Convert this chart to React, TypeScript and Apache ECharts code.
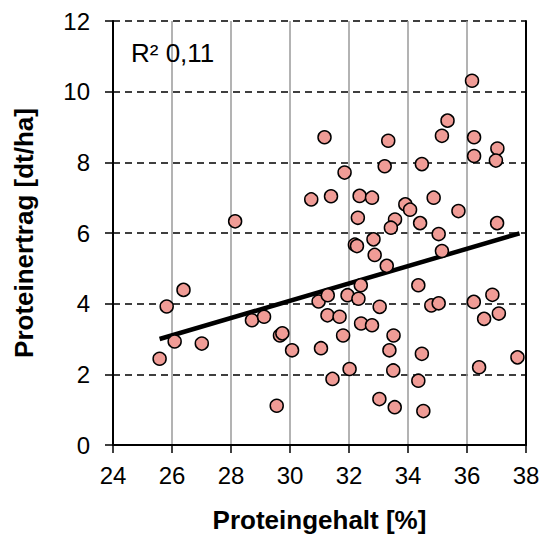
import React, { useEffect, useRef } from "react";
import * as echarts from "echarts";

const proteinContent: number[] = [
  25.58, 25.82, 26.39, 26.09, 27.01, 28.14, 28.71, 29.12, 29.55, 29.66,
  29.74, 30.07, 30.97, 31.05, 31.28, 31.27, 31.68, 31.8, 31.44, 32.02,
  31.95, 32.32, 32.4, 32.41, 32.78, 33.04, 33.51, 33.37, 33.5, 33.03,
  33.55, 32.87, 33.28, 31.17, 33.33, 33.21, 31.85, 30.72, 31.39, 32.36,
  32.78, 32.3, 33.91, 33.56, 33.42, 32.2, 32.27, 32.83, 36.17, 35.34,
  35.15, 36.24, 36.24, 37.03, 36.98, 34.47, 34.87, 34.07, 35.71, 34.41,
  37.02, 35.04, 35.15, 34.35, 34.79, 35.04, 36.23, 36.86, 36.58, 37.08,
  34.47, 34.35, 34.52, 36.41, 37.71,
];

const proteinYield: number[] = [
  2.44, 3.92, 4.39, 2.93, 2.87, 6.33, 3.53, 3.63, 1.11, 3.1,
  3.16, 2.68, 4.06, 2.74, 4.24, 3.67, 3.63, 3.1, 1.87, 2.15,
  4.24, 4.14, 4.52, 3.44, 3.39, 3.91, 3.1, 2.68, 2.11, 1.3,
  1.07, 5.38, 5.07, 8.71, 8.61, 7.89, 7.71, 6.95, 7.04, 7.05,
  7.0, 6.43, 6.81, 6.38, 6.15, 5.67, 5.63, 5.82, 10.31, 9.18,
  8.75, 8.71, 8.18, 8.39, 8.05, 7.95, 7.0, 6.66, 6.62, 6.28,
  6.28, 5.97, 5.49, 4.52, 3.95, 4.01, 4.05, 4.25, 3.57, 3.72,
  2.58, 1.82, 0.96, 2.2, 2.48,
];

const trendX: number[] = [25.58, 37.78];
const trendY: number[] = [3.0, 5.99];

const xTicks: number[] = [24, 26, 28, 30, 32, 34, 36, 38];
const yTicks: number[] = [0, 2, 4, 6, 8, 10, 12];

const rSquaredLabel = "R² 0,11";
const xTitle = "Proteingehalt [%]";
const yTitle = "Proteinertrag [dt/ha]";

const FONT = "Liberation Sans, Arial, sans-serif";

export default function App() {
  const ref = useRef<HTMLDivElement>(null);

  useEffect(() => {
    if (!ref.current) return;
    const chart = echarts.init(ref.current, undefined, { renderer: "svg" });
    const scatterData = proteinContent.map((x, i) => [x, proteinYield[i]]);
    const trendData = trendX.map((x, i) => [x, trendY[i]]);

    chart.setOption({
      animation: false,
      backgroundColor: "#ffffff",
      grid: {
        left: 113,
        right: 22,
        top: 21,
        bottom: 90,
        containLabel: false,
        outerBoundsMode: "none",
      },
      xAxis: {
        type: "value",
        min: xTicks[0],
        max: xTicks[xTicks.length - 1],
        interval: 2,
        name: xTitle,
        nameLocation: "middle",
        nameGap: 62,
        nameTextStyle: {
          fontFamily: FONT,
          fontSize: 26,
          fontWeight: "bold",
          color: "#000",
        },
        axisLine: { show: true, onZero: false, lineStyle: { color: "#000", width: 2 } },
        axisTick: { show: true, length: 8, lineStyle: { color: "#000", width: 1.5 } },
        axisLabel: {
          margin: 18,
          fontFamily: FONT,
          fontSize: 24,
          color: "#000",
        },
        splitLine: { show: true, lineStyle: { color: "#9a9a9a", width: 1.5, type: "solid" } },
      },
      yAxis: [
        {
          type: "value",
          min: yTicks[0],
          max: yTicks[yTicks.length - 1],
          interval: 2,
          name: yTitle,
          nameLocation: "middle",
          nameGap: 76,
          nameRotate: 90,
          nameTextStyle: {
            fontFamily: FONT,
            fontSize: 26,
            fontWeight: "bold",
            color: "#000",
          },
          axisLine: { show: true, onZero: false, lineStyle: { color: "#000", width: 2 } },
          axisTick: { show: true, length: 8, lineStyle: { color: "#000", width: 1.5 } },
          axisLabel: {
            margin: 23,
            fontFamily: FONT,
            fontSize: 24,
            color: "#000",
          },
          splitLine: {
            show: true,
            lineStyle: { color: "#000", width: 1.5, type: [7, 5] },
          },
        },
        {
          type: "value",
          position: "right",
          min: yTicks[0],
          max: yTicks[yTicks.length - 1],
          interval: 2,
          axisLine: { show: true, onZero: false, lineStyle: { color: "#000", width: 2 } },
          axisTick: { show: false },
          axisLabel: { show: false },
          splitLine: { show: false },
        },
      ],
      graphic: [
        {
          type: "text",
          left: 131,
          top: 40,
          style: {
            text: rSquaredLabel,
            fontFamily: FONT,
            fontSize: 26,
            fill: "#000",
          },
          z: 100,
        },
      ],
      series: [
        {
          type: "line",
          data: trendData,
          symbol: "none",
          lineStyle: { color: "#000", width: 4.5 },
          z: 2,
          silent: true,
        },
        {
          type: "scatter",
          data: scatterData,
          symbol: "circle",
          symbolSize: 13,
          itemStyle: {
            color: "#F09C96",
            borderColor: "#000",
            borderWidth: 1.5,
            opacity: 1,
          },
          z: 3,
        },
      ],
    });

    return () => chart.dispose();
  }, []);

  return (
    <div
      ref={ref}
      style={{ position: "absolute", left: 0, top: 0, width: 548, height: 535 }}
    />
  );
}
